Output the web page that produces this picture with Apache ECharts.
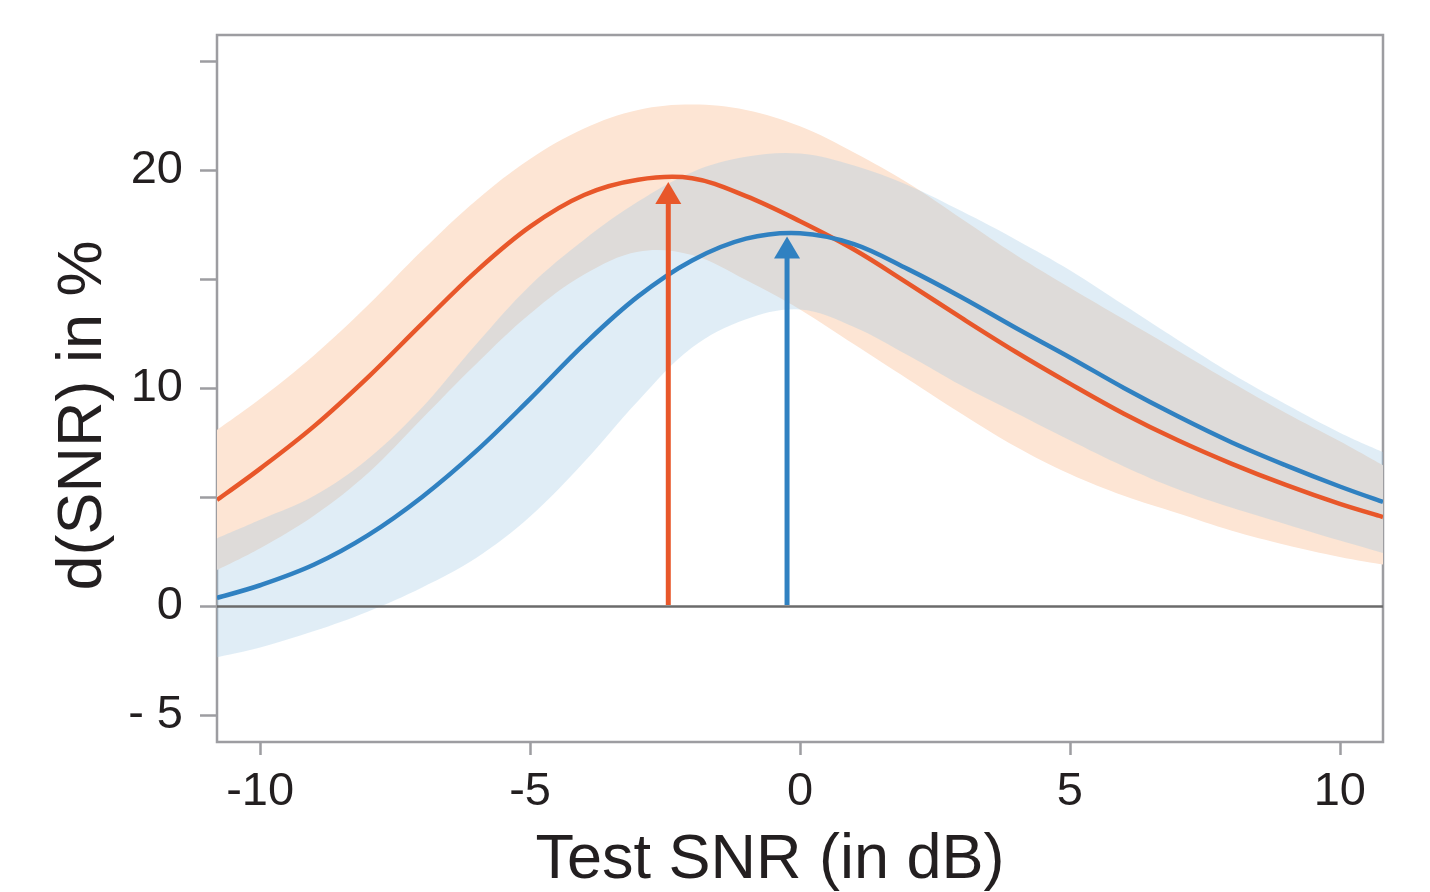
<!DOCTYPE html>
<html>
<head>
<meta charset="utf-8">
<script src="https://cdn.jsdelivr.net/npm/echarts@6/dist/echarts.min.js"></script>
<style>
  html, body { margin: 0; padding: 0; background: #ffffff; }
  #chart { width: 1430px; height: 892px; }
</style>
</head>
<body>
<div id="chart"></div>
<script>
// ---- data ----
const snr = [-10.8, -10, -9, -8, -7, -6, -5, -4, -3, -2, -1, 0, 1, 2, 3, 4, 5, 6, 7, 8, 9, 10, 10.8];

const orangeMean  = [4.86, 6.3, 8.25, 10.5, 12.95, 15.35, 17.4, 18.85, 19.55, 19.62, 18.8, 17.65, 16.35, 14.8, 13.2, 11.65, 10.2, 8.82, 7.6, 6.52, 5.55, 4.68, 4.08];
const orangeUpper = [8.07, 9.5, 11.5, 13.8, 16.3, 18.6, 20.5, 21.9, 22.75, 23.0, 22.75, 22.0, 20.8, 19.4, 17.75, 16.1, 14.6, 13.15, 11.7, 10.25, 8.85, 7.55, 6.45];
const orangeLower = [1.65, 2.65, 4.15, 6.1, 8.6, 11.1, 13.4, 15.2, 16.25, 16.1, 14.95, 13.6, 12.0, 10.4, 8.8, 7.3, 6.05, 5.05, 4.25, 3.45, 2.8, 2.25, 1.9];

const blueMean  = [0.37, 0.95, 1.9, 3.25, 5.0, 7.1, 9.5, 12.0, 14.2, 15.85, 16.85, 17.1, 16.6, 15.45, 14.15, 12.75, 11.4, 10.0, 8.7, 7.5, 6.45, 5.48, 4.77];
const blueUpper = [3.1, 3.95, 5.05, 6.75, 9.1, 12.0, 14.7, 16.8, 18.55, 19.9, 20.6, 20.75, 20.2, 19.3, 18.1, 16.8, 15.4, 13.8, 12.2, 10.65, 9.25, 7.95, 7.06];
const blueLower = [-2.35, -1.9, -1.15, -0.25, 0.85, 2.2, 4.1, 6.6, 9.4, 11.85, 13.15, 13.6, 12.8, 11.5, 10.1, 8.85, 7.6, 6.4, 5.35, 4.5, 3.75, 3.0, 2.43];

// peak arrows (x position of the peak, y of the arrow tip)
const arrowX    = [-2.44, -0.24];
const arrowTipY = [19.45, 16.95];

// ticks and labels
const xTickValues = [-10, -5, 0, 5, 10];
const xTickLabels = ['-10', '-5', '0', '5', '10'];
const yTickValues = [-5, 0, 5, 10, 15, 20, 25];
const yLabelValues = [-5, 0, 10, 20];
const yLabelTexts  = ['- 5', '0', '10', '20'];

// ---- styles ----
const ORANGE = '#e8572a';
const BLUE = '#3081c1';
const ORANGE_BAND = '#fde5d4';
const BLUE_BAND = 'rgba(158,199,227,0.32)';
const FRAME = '#9d9da1';
const TEXT = '#231f20';
const FONT = 'Liberation Sans, Arial, Helvetica, sans-serif';
const arrowColors = [ORANGE, BLUE];
const SMOOTH = 0.36;

const pairs = (xs, ys) => xs.map((x, i) => [x, ys[i]]);

// smooth path through pixel points (control points in the style of ECharts line smoothing)
function smoothSegments(pts, s) {
  const n = pts.length;
  const cps = pts.map((p, i) => {
    if (i === 0) {
      const b = pts[1];
      return { prev: p, next: [p[0] + (b[0] - p[0]) * s * 0.5, p[1] + (b[1] - p[1]) * s * 0.5] };
    }
    if (i === n - 1) {
      const a = pts[n - 2];
      return { prev: [p[0] - (p[0] - a[0]) * s * 0.5, p[1] - (p[1] - a[1]) * s * 0.5], next: p };
    }
    const a = pts[i - 1], b = pts[i + 1];
    const d0 = Math.hypot(p[0] - a[0], p[1] - a[1]);
    const d1 = Math.hypot(b[0] - p[0], b[1] - p[1]);
    const vx = b[0] - a[0], vy = b[1] - a[1];
    const r0 = d0 / (d0 + d1), r1 = d1 / (d0 + d1);
    return {
      prev: [p[0] - vx * s * r0, p[1] - vy * s * r0],
      next: [p[0] + vx * s * r1, p[1] + vy * s * r1]
    };
  });
  let d = '';
  for (let i = 1; i < n; i++) {
    const c1 = cps[i - 1].next, c2 = cps[i].prev, p = pts[i];
    d += ' C' + c1[0] + ' ' + c1[1] + ' ' + c2[0] + ' ' + c2[1] + ' ' + p[0] + ' ' + p[1];
  }
  return d;
}

function bandSeries(name, lower, upper, color) {
  return {
    name: name + ' band', type: 'custom', silent: true, clip: true, z: 1,
    data: snr.map((x, i) => [x, lower[i], upper[i]]),
    encode: { x: 0, y: [1, 2] },
    renderItem: function (params, api) {
      if (params.dataIndex !== 0) return null;
      const up = snr.map((x, i) => api.coord([x, upper[i]]));
      const lo = snr.map((x, i) => api.coord([x, lower[i]])).reverse();
      const d = 'M' + up[0][0] + ' ' + up[0][1] + smoothSegments(up, SMOOTH) +
                ' L' + lo[0][0] + ' ' + lo[0][1] + smoothSegments(lo, SMOOTH) + ' Z';
      return { type: 'path', shape: { pathData: d }, style: { fill: color } };
    }
  };
}

function meanSeries(name, values, color) {
  return {
    name: name, type: 'custom', silent: true, clip: true, z: 3,
    data: pairs(snr, values),
    encode: { x: 0, y: 1 },
    renderItem: function (params, api) {
      if (params.dataIndex !== 0) return null;
      const pts = snr.map((x, i) => api.coord([x, values[i]]));
      const d = 'M' + pts[0][0] + ' ' + pts[0][1] + smoothSegments(pts, SMOOTH);
      return { type: 'path', shape: { pathData: d },
               style: { fill: null, stroke: color, lineWidth: 4.5, lineJoin: 'round' } };
    }
  };
}

const chart = echarts.init(document.getElementById('chart'), null, { renderer: 'canvas' });

const option = {
  animation: false,
  backgroundColor: '#ffffff',
  grid: {
    left: 217, right: 47, top: 35, bottom: 150,
    outerBoundsMode: 'none', containLabel: false,
    show: true, borderColor: FRAME, borderWidth: 2.5, backgroundColor: 'transparent'
  },
  xAxis: {
    type: 'value', min: -10.8, max: 10.8,
    axisLine: { show: false, onZero: false },
    splitLine: { show: false },
    axisTick: { show: true, length: 13, lineStyle: { color: FRAME, width: 2.5 }, customValues: xTickValues },
    axisLabel: {
      customValues: xTickValues,
      formatter: v => xTickLabels[xTickValues.indexOf(v)],
      fontSize: 47, color: TEXT, fontFamily: FONT, margin: 27
    },
    name: 'Test SNR (in dB)', nameLocation: 'middle', nameGap: 87,
    nameTextStyle: { fontSize: 63, color: TEXT, fontFamily: FONT, padding: [0, 60, 0, 0] }
  },
  yAxis: {
    type: 'value', min: -6.24, max: 26.19,
    axisLine: { show: false, onZero: false },
    splitLine: { show: false },
    axisTick: { show: true, length: 17, lineStyle: { color: FRAME, width: 2.5 }, customValues: yTickValues },
    axisLabel: {
      customValues: yLabelValues,
      formatter: v => yLabelTexts[yLabelValues.indexOf(v)],
      fontSize: 47, color: TEXT, fontFamily: FONT, margin: 34
    },
    name: 'd(SNR) in %', nameLocation: 'middle', nameGap: 102, nameRotate: 90,
    nameTextStyle: { fontSize: 63, color: TEXT, fontFamily: FONT, padding: [0, 54, 0, 0] }
  },
  series: [
    bandSeries('orange', orangeLower, orangeUpper, ORANGE_BAND),
    bandSeries('blue', blueLower, blueUpper, BLUE_BAND),
    {
      name: 'zero', type: 'line', data: [], silent: true, z: 2,
      markLine: {
        silent: true, symbol: ['none', 'none'], label: { show: false },
        lineStyle: { color: '#6b6b6b', width: 2.5, type: 'solid' },
        data: [{ yAxis: 0 }]
      }
    },
    meanSeries('orange', orangeMean, ORANGE),
    meanSeries('blue', blueMean, BLUE),
    {
      name: 'arrows', type: 'custom', silent: true, clip: false, z: 4,
      data: pairs(arrowX, arrowTipY),
      encode: { x: 0, y: 1 },
      renderItem: function (params, api) {
        const i = params.dataIndex;
        const color = arrowColors[i];
        const base = api.coord([api.value(0), 0]);
        const tip = api.coord([api.value(0), api.value(1)]);
        const headH = 22, headW = 26;
        return {
          type: 'group',
          children: [
            { type: 'line', shape: { x1: base[0], y1: base[1] - 1, x2: tip[0], y2: tip[1] + headH - 1 },
              style: { stroke: color, lineWidth: 5 } },
            { type: 'polygon', shape: { points: [[tip[0], tip[1]], [tip[0] - headW / 2, tip[1] + headH], [tip[0] + headW / 2, tip[1] + headH]] },
              style: { fill: color } }
          ]
        };
      }
    }
  ]
};

chart.setOption(option);
</script>
</body>
</html>
